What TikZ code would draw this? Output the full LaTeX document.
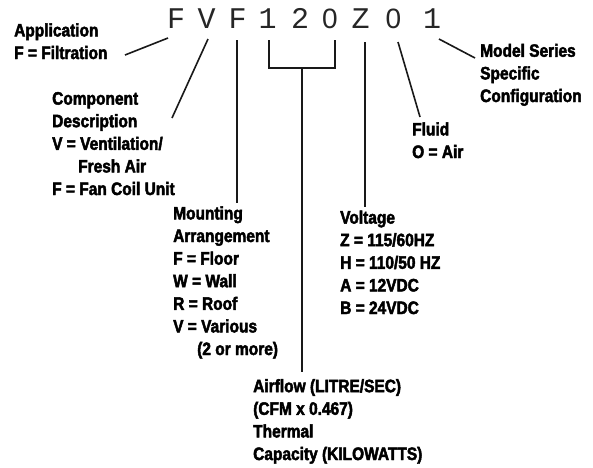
\documentclass[tikz,border=0pt]{standalone}
\usepackage{fontspec}
\newfontfamily\lblfont{Liberation Sans Bold}[FakeStretch=0.86,FakeBold=2.5]
\newfontfamily\codefont{Liberation Mono}
\newfontfamily\zerofont{Liberation Sans}
\begin{document}
\begin{tikzpicture}[x=1pt,y=-1pt,
  code/.style={inner sep=0pt,anchor=base,font=\codefont\fontsize{30}{30}\selectfont,text=black!85},
  zero/.style={code,font=\zerofont\fontsize{28}{28}\selectfont},
  lbl/.style={inner sep=0pt,anchor=base west,align=left,font=\lblfont\fontsize{18}{22.6}\selectfont},
  conn/.style={line width=1.6pt,draw=black!90}]
\path[use as bounding box,fill=white] (0,0) rectangle (593,467);
% code characters
\node[code] (c1) at (176,28) {F};
\node[code] (c2) at (206.5,28) {V};
\node[code] (c3) at (237.5,28) {F};
\node[code] (c4) at (267.5,28) {1};
\node[code] (c5) at (300,28) {2};
\node[zero] (c6) at (330,28) {0};
\node[code] (c7) at (360.5,28) {Z};
\node[zero] (c8) at (393.5,28) {0};
\node[code] (c9) at (432,28) {1};
% labels (anchored at the baseline of their last line)
\node[lbl] (app) at (14,59) {Application\\F = Filtration};
\node[lbl] (comp) at (52,195) {Component\\Description\\V = Ventilation/\\\hspace*{26pt}Fresh Air\\F = Fan Coil Unit};
\node[lbl] (mount) at (173,355) {Mounting\\Arrangement\\F = Floor\\W = Wall\\R = Roof\\V = Various\\\hspace*{24pt}(2 or more)};
\node[lbl] (air) at (253,460) {Airflow (LITRE/SEC)\\(CFM x 0.467)\\Thermal\\Capacity (KILOWATTS)};
\node[lbl] (volt) at (340,314) {Voltage\\Z = 115/60HZ\\H = 110/50 HZ\\A = 12VDC\\B = 24VDC};
\node[lbl] (fluid) at (412,158) {Fluid\\O = Air};
\node[lbl] (model) at (480,102) {Model Series\\Specific\\Configuration};
% connector end points
\coordinate (appA) at (168,38);   \coordinate (appB) at (125,55);
\coordinate (compA) at (208,39);  \coordinate (compB) at (172,118);
\coordinate (mntA) at (237,40);   \coordinate (mntB) at (237,203);
\coordinate (brL) at (269,40);    \coordinate (brR) at (335,40);
\coordinate (brM) at (302,68);    \coordinate (airB) at (302,372);
\coordinate (voltA) at (365,42);  \coordinate (voltB) at (365,207);
\coordinate (fluA) at (398,42);   \coordinate (fluB) at (420,117);
\coordinate (modA) at (439,39);   \coordinate (modB) at (475,58);
% connectors
\draw[conn] (appA) -- (appB);
\draw[conn] (compA) -- (compB);
\draw[conn] (mntA) -- (mntB);
\draw[conn] (brL) |- (brM) -| (brR);
\draw[conn] (brM) -- (airB);
\draw[conn] (voltA) -- (voltB);
\draw[conn] (fluA) -- (fluB);
\draw[conn] (modA) -- (modB);
\end{tikzpicture}
\end{document}
